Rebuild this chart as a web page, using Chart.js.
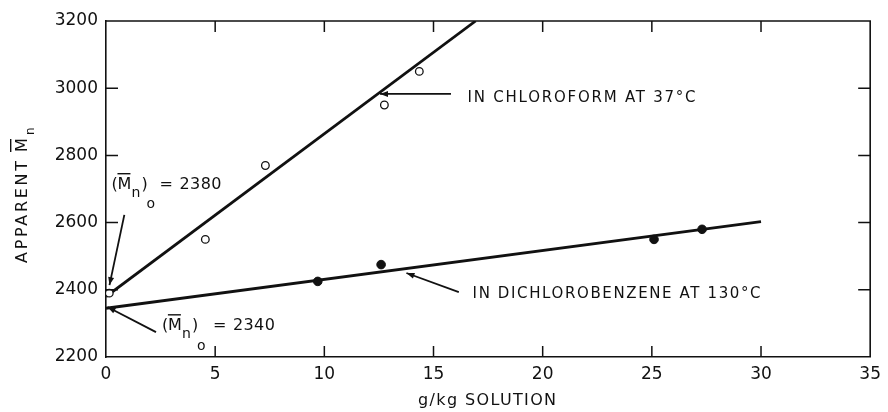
<!DOCTYPE html>
<html>
<head>
<meta charset="utf-8">
<script src="https://cdn.jsdelivr.net/npm/chart.js@4.4.1/dist/chart.umd.min.js"></script>
<style>
  html, body { margin: 0; padding: 0; background: #fff; }
  #wrap { width: 888px; height: 412px; position: relative; }
</style>
</head>
<body>
<div id="wrap"><canvas id="c"></canvas></div>
<script>
// ---- data ----
const chloroX = [0.15, 4.55, 7.3, 12.75, 14.35];
const chloroY = [2390, 2550, 2770, 2950, 3050];
const dcbX = [9.7, 12.6, 25.1, 27.3];
const dcbY = [2425, 2475, 2550, 2580];
const chloroFitX = [0, 16.93];
const chloroFitY = [2380, 3200];
const dcbFitX = [0, 30];
const dcbFitY = [2345, 2603];
const xTickValues = [0, 5, 10, 15, 20, 25, 30, 35];
const yTickValues = [2200, 2400, 2600, 2800, 3000, 3200];
const labelChloro = 'IN CHLOROFORM AT 37°C';
const labelDcb = 'IN DICHLOROBENZENE AT 130°C';
const mnChloro = '2380';
const mnDcb = '2340';
const xTitle = 'g/kg SOLUTION';
const yTitle = 'APPARENT';

const pts = (xs, ys) => xs.map((x, i) => ({ x: x, y: ys[i] }));
const INK = '#111';
const FONT = '"DejaVu Sans", sans-serif';

function spaced(ctx, txt, x, y, targetW) {
  ctx.letterSpacing = '0px';
  const w = ctx.measureText(txt).width;
  const ls = (targetW - w) / (txt.length - 1);
  ctx.letterSpacing = ls + 'px';
  ctx.fillText(txt, x, y);
  ctx.letterSpacing = '0px';
}

function arrow(ctx, x1, y1, x2, y2) {
  ctx.beginPath();
  ctx.moveTo(x1, y1);
  ctx.lineTo(x2, y2);
  ctx.lineWidth = 1.8;
  ctx.strokeStyle = INK;
  ctx.stroke();
  const a = Math.atan2(y2 - y1, x2 - x1);
  const L = 8, W = 3;
  ctx.beginPath();
  ctx.moveTo(x2, y2);
  ctx.lineTo(x2 - L * Math.cos(a) + W * Math.sin(a), y2 - L * Math.sin(a) - W * Math.cos(a));
  ctx.lineTo(x2 - L * Math.cos(a) - W * Math.sin(a), y2 - L * Math.sin(a) + W * Math.cos(a));
  ctx.closePath();
  ctx.fillStyle = INK;
  ctx.fill();
}

function mnLabel(ctx, x0, yb, value, sp) {
  ctx.fillStyle = INK;
  ctx.textBaseline = 'alphabetic';
  ctx.textAlign = 'left';
  ctx.font = '16px ' + FONT;
  ctx.fillText('(', x0, yb);
  ctx.fillText('M', x0 + 6, yb);
  ctx.fillRect(x0 + 6, yb - 16, 13, 1.4);
  ctx.fillText(')', x0 + 30, yb);
  ctx.fillText('=', x0 + sp.eq, yb);
  spaced(ctx, value, x0 + sp.num, yb, 42);
  ctx.font = '14px ' + FONT;
  ctx.fillText('n', x0 + 20, yb + 8);
  ctx.fillText('o', x0 + 35, yb + sp.o);
}

const deco = {
  id: 'deco',
  afterDraw(chart) {
    const ctx = chart.ctx;
    const a = chart.chartArea;
    const xs = chart.scales.x, ys = chart.scales.y;
    ctx.save();
    ctx.strokeStyle = INK;
    ctx.lineWidth = 1.6;
    ctx.beginPath();
    ctx.moveTo(a.left, a.top); ctx.lineTo(a.right, a.top); ctx.lineTo(a.right, a.bottom);
    ctx.stroke();
    ctx.lineWidth = 1.5;
    xTickValues.slice(1, -1).forEach(v => {
      const p = xs.getPixelForValue(v);
      ctx.beginPath();
      ctx.moveTo(p, a.bottom); ctx.lineTo(p, a.bottom - 11);
      ctx.moveTo(p, a.top); ctx.lineTo(p, a.top + 11);
      ctx.stroke();
    });
    yTickValues.slice(1, -1).forEach(v => {
      const p = ys.getPixelForValue(v);
      ctx.beginPath();
      ctx.moveTo(a.left, p); ctx.lineTo(a.left + 12, p);
      ctx.moveTo(a.right, p); ctx.lineTo(a.right - 12, p);
      ctx.stroke();
    });
    const X = v => xs.getPixelForValue(v), Y = v => ys.getPixelForValue(v);
    arrow(ctx, X(15.8), Y(2983), X(12.55), Y(2983));
    arrow(ctx, X(16.16), Y(2393), X(13.76), Y(2450));
    arrow(ctx, X(0.84), Y(2623), X(0.16), Y(2414));
    arrow(ctx, X(2.29), Y(2274), X(0.07), Y(2349));
    ctx.fillStyle = INK;
    ctx.textAlign = 'left';
    ctx.textBaseline = 'alphabetic';
    ctx.font = '15px ' + FONT;
    spaced(ctx, labelChloro, X(16.56), Y(2959), 228);
    spaced(ctx, labelDcb, X(16.79), Y(2376), 288);
    mnLabel(ctx, X(0.25), Y(2700), mnChloro, { eq: 48, num: 68, o: 19 });
    mnLabel(ctx, X(2.56), Y(2280), mnDcb, { eq: 51, num: 71, o: 20 });
    // x axis title
    ctx.font = '16px ' + FONT;
    spaced(ctx, xTitle, (a.left + a.right) / 2 - 70, 405, 138);
    // y axis title
    ctx.save();
    ctx.translate(27, 263);
    ctx.rotate(-Math.PI / 2);
    ctx.font = '16px ' + FONT;
    spaced(ctx, yTitle, 0, 0, 102);
    ctx.fillText('M', 111, 0);
    ctx.fillRect(111, -17, 13, 1.4);
    ctx.font = '12px ' + FONT;
    ctx.fillText('n', 128, 7);
    ctx.restore();
    ctx.restore();
  }
};

Chart.defaults.font.family = FONT;
Chart.defaults.color = INK;

new Chart(document.getElementById('c'), {
  type: 'scatter',
  data: {
    datasets: [
      { label: 'chloroform', data: pts(chloroX, chloroY), showLine: false,
        pointStyle: 'circle', pointRadius: 3.8, pointBorderWidth: 1.3,
        pointBorderColor: INK, pointBackgroundColor: '#fff' },
      { label: 'dcb', data: pts(dcbX, dcbY), showLine: false,
        pointStyle: 'circle', pointRadius: 4.3, pointBorderWidth: 1,
        pointBorderColor: INK, pointBackgroundColor: INK },
      { label: 'chloroFit', data: pts(chloroFitX, chloroFitY), showLine: true,
        borderColor: INK, borderWidth: 2.8, pointRadius: 0, fill: false },
      { label: 'dcbFit', data: pts(dcbFitX, dcbFitY), showLine: true,
        borderColor: INK, borderWidth: 2.8, pointRadius: 0, fill: false }
    ]
  },
  options: {
    responsive: true,
    maintainAspectRatio: false,
    animation: false,
    events: [],
    layout: { padding: { top: 21, right: 10, left: 0, bottom: 0 } },
    plugins: { legend: { display: false }, tooltip: { enabled: false } },
    scales: {
      x: {
        type: 'linear', min: 0, max: 35,
        afterBuildTicks: s => { s.ticks = xTickValues.map(v => ({ value: v })); },
        afterFit: s => { s.height = 55; },
        grid: { drawOnChartArea: false, drawTicks: false },
        border: { color: INK, width: 1.6 },
        ticks: { font: { size: 17 }, padding: 7, color: INK, maxRotation: 0,
                 callback: v => String(v) }
      },
      y: {
        type: 'linear', min: 2200, max: 3200,
        afterBuildTicks: s => { s.ticks = yTickValues.map(v => ({ value: v })); },
        afterFit: s => { s.width = 106; },
        grid: { drawOnChartArea: false, drawTicks: false },
        border: { color: INK, width: 1.6 },
        ticks: { font: { size: 17 }, padding: 8, color: INK,
                 callback: v => String(v) }
      }
    }
  },
  plugins: [deco]
});
</script>
</body>
</html>
